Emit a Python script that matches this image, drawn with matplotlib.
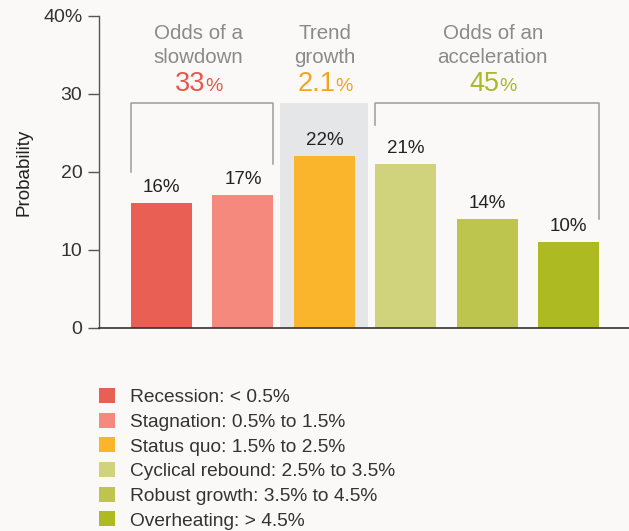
import matplotlib
matplotlib.use("Agg")
import matplotlib.pyplot as plt
from matplotlib.offsetbox import TextArea, HPacker, AnnotationBbox

plt.rcParams['font.family'] = ['Liberation Sans', 'DejaVu Sans']

# ---- data ----
scenarios = ["Recession: < 0.5%", "Stagnation: 0.5% to 1.5%", "Status quo: 1.5% to 2.5%",
             "Cyclical rebound: 2.5% to 3.5%", "Robust growth: 3.5% to 4.5%", "Overheating: > 4.5%"]
probabilities = [16, 17, 22, 21, 14, 11]
bar_labels = ["16%", "17%", "22%", "21%", "14%", "10%"]
colors = ["#E95F54", "#F6897E", "#FBB52C", "#D0D37C", "#BEC54F", "#ADBA21"]
yticks = [0, 10, 20, 30, 40]
ytick_labels = ["0", "10", "20", "30", "40%"]

group_titles = [["Odds of a", "slowdown"], ["Trend", "growth"], ["Odds of an", "acceleration"]]
group_numbers = ["33", "2.1", "45"]
group_colors = ["#E9574C", "#F0A620", "#AAB829"]

BG = "#FAF9F7"
fig = plt.figure(figsize=(6.29, 5.31), dpi=100, facecolor=BG)
W, H = 629, 531
ax = fig.add_axes([99 / W, 1 - 328 / H, 1 - 99 / W, (328 - 16) / H])
ax.set_facecolor(BG)

x = list(range(len(probabilities)))
# gray band behind "trend growth"
ax.bar(2, 28.85, width=1.08, color="#E5E6E8", zorder=0)
bars = ax.bar(x, probabilities, width=0.75, color=colors, zorder=2)
for xi, v, lab in zip(x, probabilities, bar_labels):
    ax.annotate(lab, (xi, v), xytext=(0, 5), textcoords="offset points",
                ha="center", va="bottom", fontsize=13.5, color="#222222")

# brackets
bc = "#9C9C9C"
top = 28.85
ax.plot([0 - 0.375, 0 - 0.375, 1 + 0.375, 1 + 0.375], [20, top, top, 21], color=bc, lw=1.1, zorder=1)
ax.plot([3 - 0.375, 3 - 0.375, 5 + 0.375, 5 + 0.375], [26, top, top, 14], color=bc, lw=1.1, zorder=1)

# group titles
title_x = [0.455, 2.01, 4.07]
for tx, lines, num, col in zip(title_x, group_titles, group_numbers, group_colors):
    ax.text(tx, 37.7, lines[0], ha="center", va="center", fontsize=14.8, color="#8A8A8A")
    ax.text(tx, 34.7, lines[1], ha="center", va="center", fontsize=14.8, color="#8A8A8A")
    pack = HPacker(children=[TextArea(num, textprops=dict(fontsize=19.5, color=col)),
                             TextArea("%", textprops=dict(fontsize=14, color=col))],
                   align="baseline", pad=0, sep=0)
    ab = AnnotationBbox(pack, (tx, 31.3), frameon=False, box_alignment=(0.5, 0.5),
                        xycoords="data", annotation_clip=False)
    ax.add_artist(ab)

ax.set_xlim(-0.768, 5.743)
ax.set_ylim(0, 40)
ax.set_yticks(yticks)
ax.set_yticklabels(ytick_labels)
ax.set_xticks([])
for s in ["top", "right"]:
    ax.spines[s].set_visible(False)
ax.spines["left"].set_color("#555555")
ax.spines["bottom"].set_color("#333333")
ax.spines["left"].set_linewidth(1)
ax.spines["bottom"].set_linewidth(1.2)
ax.tick_params(axis="y", length=8, width=1, color="#555555", pad=4, labelsize=14, labelcolor="#333333")
ax.set_ylabel("Probability", fontsize=13.5, color="#222222")
ax.yaxis.set_label_coords(-67 / 530, 0.5)

leg = ax.legend(handles=list(bars), labels=scenarios, loc="upper left",
                bbox_to_anchor=(99 / W, 1 - 388 / H), bbox_transform=fig.transFigure,
                frameon=False, fontsize=13.8, handlelength=0.83, handleheight=0.83,
                handletextpad=0.78, labelspacing=0.34, borderpad=0, borderaxespad=0)
for t in leg.get_texts():
    t.set_color("#333333")

fig.savefig("out.png", dpi=100, facecolor=BG)
